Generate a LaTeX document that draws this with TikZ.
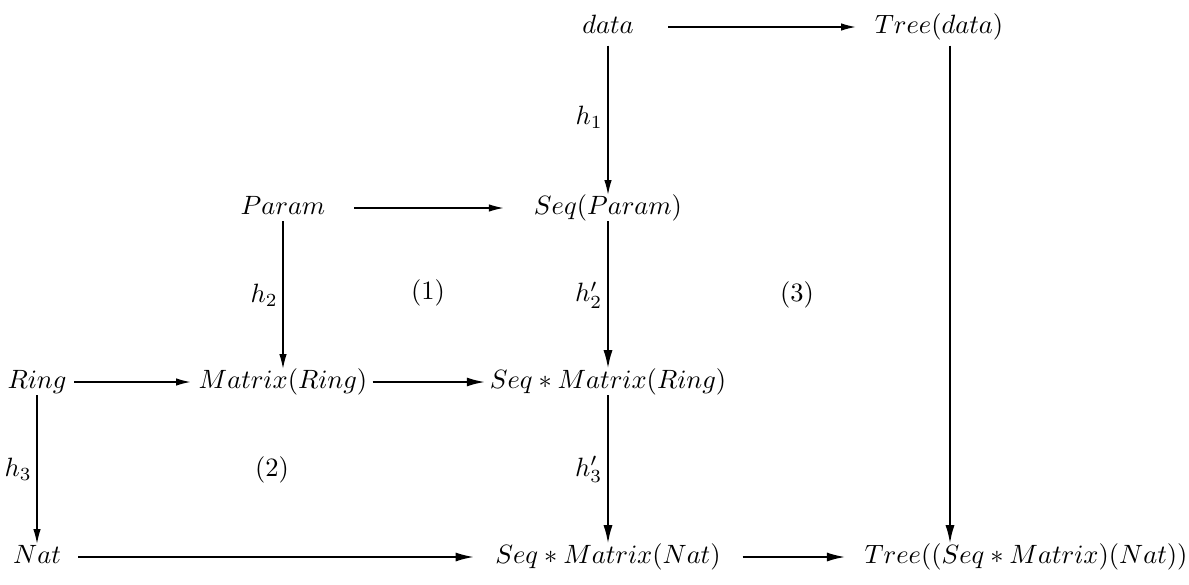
\documentclass[tikz,border=0pt]{standalone}
\usepackage{amsmath,amssymb}
\usepackage{tikz}
\usetikzlibrary{arrows.meta,calc}
\tikzset{
    % Objects of the diagram (same box height for every object)
    obj/.style={
        inner sep=0pt, outer sep=0pt,
        text height=7.5pt, text depth=2.5pt
    },
    % Thin morphism arrow
    maparrow/.style={line width=0.45pt, -{Latex[length=5.5pt,width=2.8pt]}},
    % Heavier morphism arrow
    heavyarrow/.style={line width=0.8pt, -{Latex[length=7pt,width=3.4pt]}},
    % Label of a vertical map
    maplabel/.style={left, inner sep=1.8pt},
    % Number of a commuting square
    cellnum/.style={inner sep=0pt},
}

\begin{document}
\begin{tikzpicture}[x=0.01327cm,y=-0.01327cm]
  \useasboundingbox (0,0) rectangle (1189,585);
  % objects
  \node[obj] (data)       at (608,27)  {$data$};
  \node[obj] (treedata)   at (939,27)  {$Tree(data)$};
  \node[obj] (param)      at (283,208) {$Param$};
  \node[obj] (seqparam)   at (608,208) {$Seq(Param)$};
  \node[obj] (ring)       at (37,382)  {$Ring$};
  \node[obj] (matring)    at (283,382) {$Matrix(Ring)$};
  \node[obj] (seqmatring) at (608,382) {$Seq*Matrix(Ring)$};
  \node[obj] (nat)        at (37,557)  {$Nat$};
  \node[obj] (seqmatnat)  at (608,557) {$Seq*Matrix(Nat)$};
  \node[obj] (treebig)    at (1026,557) {$Tree((Seq*Matrix)(Nat))$};
  \coordinate (tcol) at (950,0);
  % horizontal maps
  \draw[maparrow,shorten <=13pt,shorten >=7.2pt] (data.east) -- (treedata.west);
  \draw[maparrow,shorten <=11pt,shorten >=11.5pt] (param.east) -- (seqparam.west);
  \draw[maparrow,line width=0.6pt,shorten <=3pt,shorten >=3pt] (ring.east) -- (matring.west);
  \draw[heavyarrow,shorten <=2pt,shorten >=1.7pt] (matring.east) -- (seqmatring.west);
  \draw[heavyarrow,shorten <=6.5pt,shorten >=8pt] (nat.east) -- (seqmatnat.west);
  \draw[heavyarrow,shorten <=8.3pt,shorten >=7.2pt] (seqmatnat.east) -- (treebig.west);
  % vertical maps
  \draw[maparrow,shorten <=2pt] (data.south) -- (seqparam.north)
      node[midway,maplabel] {$h_1$};
  \draw[maparrow] (param.south) -- (matring.north)
      node[midway,maplabel] {$h_2$};
  \draw[heavyarrow] (seqparam.south) -- (seqmatring.north)
      node[midway,maplabel] {$h'_2$};
  \draw[maparrow] (ring.south) -- (nat.north)
      node[midway,maplabel] {$h_3$};
  \draw[heavyarrow] (seqmatring.south) -- (seqmatnat.north)
      node[midway,maplabel] {$h'_3$};
  \draw[heavyarrow,shorten <=2pt] (treedata.south -| tcol) -- (treebig.north -| tcol);
  % commuting squares
  \node[cellnum] (sq1) at (428,293) {(1)};
  \node[cellnum] (sq2) at (272,470) {(2)};
  \node[cellnum] (sq3) at (797,295) {(3)};
\end{tikzpicture}
\end{document}
